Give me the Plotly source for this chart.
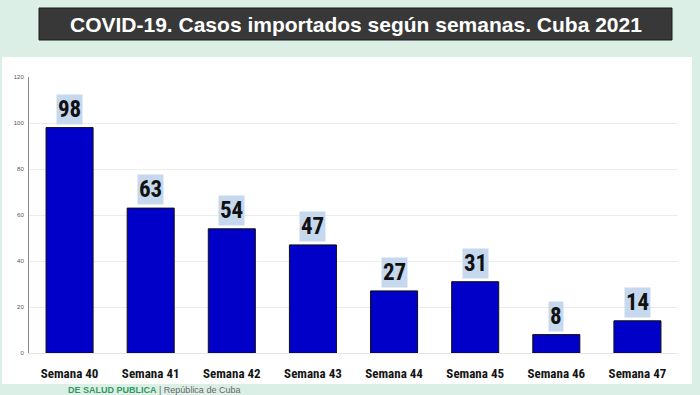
import plotly.graph_objects as go

categories = ["Semana 40", "Semana 41", "Semana 42", "Semana 43",
              "Semana 44", "Semana 45", "Semana 46", "Semana 47"]
values = [98, 63, 54, 47, 27, 31, 8, 14]
y_ticks = [0, 20, 40, 60, 80, 100, 120]
title_text = "COVID-19. Casos importados según semanas. Cuba 2021"

W, H = 700, 395
L, R, T, B = 29, 22, 77, 42
pw, ph = W - L - R, H - T - B

def px_x(x):
    return (x - L) / pw

def px_y(y):
    return (H - B - y) / ph

fig = go.Figure()
fig.add_trace(go.Bar(
    x=categories, y=values,
    marker=dict(color="#0000c8", line=dict(color="#111111", width=1)),
    width=0.58, hoverinfo="x+y",
))

cond = "'Liberation Sans Narrow', 'Arial Narrow', 'Roboto Condensed', 'Liberation Sans', Arial, sans-serif"

annotations = []
for c, v in zip(categories, values):
    annotations.append(dict(
        x=c, y=v, xref="x", yref="y", text="<b>%d</b>" % v,
        showarrow=False, yanchor="bottom", yshift=3,
        font=dict(family=cond, size=23, color="#111111"),
        bgcolor="#c6d8ee", borderpad=1,
    ))

# title box text
annotations.append(dict(
    x=(px_x(39) + px_x(672)) / 2, y=(px_y(8) + px_y(40)) / 2,
    xref="paper", yref="paper", text="<b>" + title_text + "</b>",
    showarrow=False, xanchor="center", yanchor="middle",
    font=dict(family="'Liberation Sans', Arial, sans-serif", size=21, color="#ffffff"),
))
# footer text
annotations.append(dict(
    x=px_x(66), y=px_y(390), xref="paper", yref="paper",
    text="<b><span style='color:#2f9a5c'>DE SALUD PUBLICA</span></b><span style='color:#666'> | República de Cuba</span>",
    showarrow=False, xanchor="left", yanchor="middle",
    font=dict(family="'Liberation Sans', Arial, sans-serif", size=9),
))

shapes = [
    # white panel
    dict(type="rect", xref="paper", yref="paper", layer="below",
         x0=px_x(2), x1=px_x(692), y0=px_y(384), y1=px_y(57),
         fillcolor="#ffffff", line=dict(width=0)),
    # title box
    dict(type="rect", xref="paper", yref="paper", layer="below",
         x0=px_x(39), x1=px_x(672), y0=px_y(40), y1=px_y(8),
         fillcolor="#383838", line=dict(color="#1a1a1a", width=1)),
]

fig.update_layout(
    width=W, height=H,
    margin=dict(l=L, r=R, t=T, b=B, autoexpand=False),
    paper_bgcolor="#dcefe6",
    plot_bgcolor="rgba(0,0,0,0)",
    showlegend=False,
    annotations=annotations,
    shapes=shapes,
    xaxis=dict(
        tickfont=dict(family=cond, size=13, color="#151515"),
        tickprefix="<b>", ticksuffix="</b>",
        showline=True, linecolor="#e6e6e6", linewidth=1,
        ticks="", showgrid=False, automargin=False,
        ticklabelstandoff=8,
    ),
    yaxis=dict(
        range=[0, 120], tickvals=y_ticks,
        tickfont=dict(family="'Liberation Sans', Arial, sans-serif", size=6, color="#555555"),
        showgrid=True, gridcolor="#ececec", gridwidth=1,
        showline=True, linecolor="#8a8a8a", linewidth=1,
        zeroline=False, ticks="", automargin=False,
        ticklabelstandoff=3,
    ),
)

fig.write_html("out.html", config={"displayModeBar": False},
               post_script="document.body.style.margin='0';document.body.style.overflow='hidden';")
